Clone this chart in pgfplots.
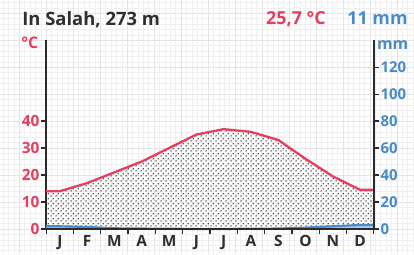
\documentclass[border=0pt]{standalone}
\usepackage{pgfplots}
\pgfplotsset{compat=1.18}
\usepackage{fontspec}
\setmainfont{Open Sans}
\usetikzlibrary{patterns}
\definecolor{tred}{HTML}{E2405E}
\definecolor{pblue}{HTML}{4A8AC6}
\definecolor{axc}{HTML}{2B2B2B}
\definecolor{tit}{HTML}{2F2F2F}
\pgfdeclarepatternformonly{mydots}{\pgfqpoint{0bp}{0bp}}{\pgfqpoint{4.6bp}{4.6bp}}{\pgfqpoint{4.6bp}{4.6bp}}{%
  \pgfpathcircle{\pgfqpoint{1.15bp}{1.15bp}}{0.8bp}%
  \pgfpathcircle{\pgfqpoint{3.45bp}{3.45bp}}{0.8bp}%
  \pgfusepath{fill}}
\begin{document}
\begin{tikzpicture}[x=1bp,y=1bp]
\fill[white] (-46bp,-25bp) rectangle (368bp,229bp);
\draw[gray!12, line width=0.35bp, step=5.4bp] (-46bp,-25bp) grid (368bp,229bp);
\draw[gray!20, line width=0.4bp, step=27bp] (-46bp,-25bp) grid (368bp,229bp);
\useasboundingbox (-46bp,-25bp) rectangle (368bp,229bp);
% temperature axis
\begin{axis}[
  at={(0,0)}, anchor=south west,
  scale only axis, width=328bp, height=189bp,
  xmin=0, xmax=12, ymin=0, ymax=70,
  axis x line=none, axis y line*=left,
  axis line style={-, axc, line width=1.7bp},
  ytick={0,10,20,30,40},
  tick align=outside, major tick length=5bp,
  tick style={axc, line width=1.2bp},
  yticklabel style={tred, font=\bfseries\fontsize{15.5}{15.5}\selectfont, inner sep=1.5bp},
  /pgf/number format/assume math mode=true,
  clip=false,
]
\addplot[draw=none, pattern=mydots, pattern color=black!90] coordinates {
  (0,14) (0.5,14) (1.5,17) (2.5,21) (3.5,25) (4.5,30) (5.5,35)
  (6.5,37) (7.5,36) (8.5,33) (9.5,26) (10.5,19.5) (11.5,14.5) (12,14.5)} \closedcycle;
\addplot[tred, line width=2.3bp, line join=round] coordinates {
  (0,14) (0.5,14) (1.5,17) (2.5,21) (3.5,25) (4.5,30) (5.5,35)
  (6.5,37) (7.5,36) (8.5,33) (9.5,26) (10.5,19.5) (11.5,14.5) (12,14.5)};
\end{axis}
% precipitation axis
\begin{axis}[
  at={(0,0)}, anchor=south west,
  scale only axis, width=328bp, height=189bp,
  xmin=0, xmax=12, ymin=0, ymax=140,
  axis x line*=bottom, axis y line*=right,
  axis line style={-, axc, line width=1.7bp},
  axis on top,
  ytick={0,20,...,120},
  xtick={0.5,1.5,...,11.5},
  xticklabels={J,F,M,A,M,J,J,A,S,O,N,D},
  minor xtick={0,1,...,12},
  major x tick style={draw=none},
  tick align=outside, major tick length=5bp, minor tick length=5bp,
  tick style={axc, line width=1.2bp},
  yticklabel style={pblue, font=\bfseries\fontsize{15}{15}\selectfont, inner sep=1.5bp},
  xticklabel style={tit, font=\bfseries\fontsize{15.5}{15.5}\selectfont, inner sep=1bp},
  /pgf/number format/assume math mode=true,
  clip=false,
]
\addplot[draw=none, fill=pblue!45] coordinates {
  (0,2) (0.5,2) (1.5,1.5) (2.5,0.5) (3.5,0.3) (4.5,0.2) (5.5,0)
  (6.5,0) (7.5,0.2) (8.5,0.3) (9.5,1) (10.5,2) (11.5,3) (12,3)} \closedcycle;
\addplot[pblue, line width=2.2bp, line join=round] coordinates {
  (0,2) (0.5,2) (1.5,1.5) (2.5,0.5) (3.5,0.3) (4.5,0.2) (5.5,0)
  (6.5,0) (7.5,0.2) (8.5,0.3) (9.5,1) (10.5,2) (11.5,3) (12,3)};
\end{axis}
\node[anchor=base west, inner sep=0, tit, font=\bfseries\fontsize{18.5}{18.5}\selectfont] at (-24bp,204bp) {In Salah, 273 m};
\node[anchor=base west, inner sep=0, tred, font=\bfseries\fontsize{18}{18}\selectfont] at (220bp,205bp) {25,7 °C};
\node[anchor=base east, inner sep=0, pblue, font=\bfseries\fontsize{18}{18}\selectfont] at (362bp,205bp) {11 mm};
\node[anchor=base west, inner sep=0, tred, font=\bfseries\fontsize{16}{16}\selectfont] at (-25bp,181bp) {°C};
\node[anchor=base west, inner sep=0, pblue, font=\bfseries\fontsize{16}{16}\selectfont] at (331bp,180bp) {mm};
\end{tikzpicture}
\end{document}
